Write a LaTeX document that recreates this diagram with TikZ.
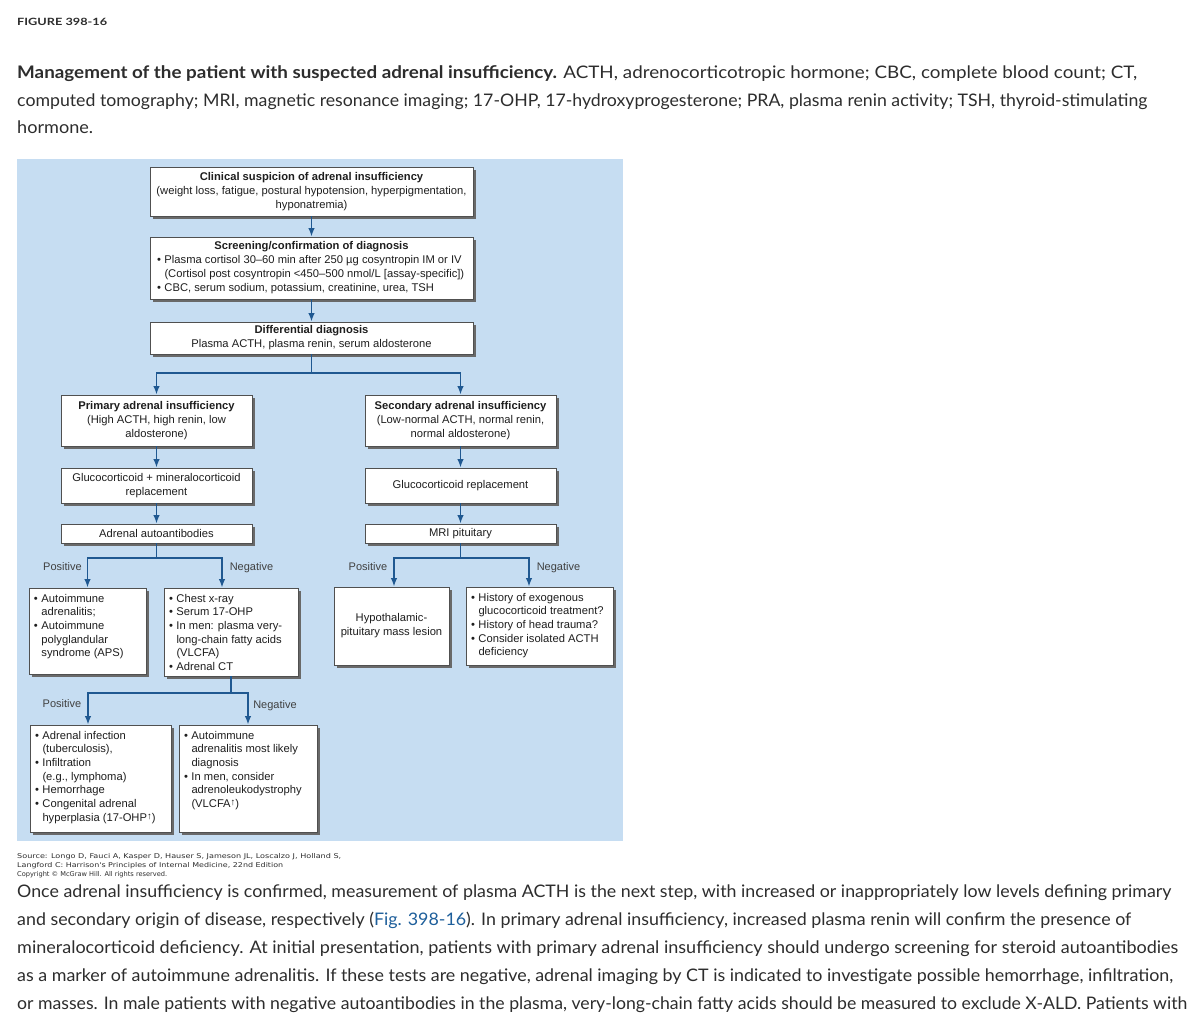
\documentclass[tikz,border=0pt]{standalone}
\usepackage{fontspec}
\usepackage{graphicx}
\usetikzlibrary{arrows.meta,shadows}
\newfontfamily\dfont{Liberation Sans}
\newfontfamily\pfont{Lato}
\newfontfamily\sfont{DejaVu Sans}
\definecolor{panel}{RGB}{198,221,242}
\definecolor{arrc}{RGB}{31,88,145}
\definecolor{boxline}{RGB}{80,80,80}
\definecolor{shadowc}{RGB}{105,105,105}
\definecolor{dtext}{RGB}{30,30,30}
\definecolor{ptext}{RGB}{45,45,45}
\definecolor{linkc}{RGB}{30,95,155}
\newcommand\dsz{\dfont\fontsize{11.2}{14}\selectfont}
\newcommand\bsz{\dfont\fontsize{11.2}{13.7}\selectfont}
\newcommand\bul{\makebox[7.5pt][l]{\textbullet}}
\newcommand\ind{\hspace*{7.5pt}}
\newcommand\upar{{\fontsize{9.5}{9.5}\selectfont\raisebox{1.8pt}{↑}}}
\newcommand\bx[3]{\begin{minipage}[c][#2pt][t]{#1pt}\bsz\raggedright\rule{0pt}{14pt}#3\end{minipage}}
\newcommand\fitl[2]{\resizebox{#1pt}{\height}{#2}}
\newcommand\bodysz{\pfont\fontsize{17.3}{20}\selectfont}
\tikzset{
  box/.style={draw=boxline, line width=0.9pt, fill=white, text=dtext,
    drop shadow={shadow xshift=3pt, shadow yshift=-3pt, fill=shadowc, opacity=1}},
  cbox/.style={box, align=center, inner sep=1pt, font=\dsz},
  bbox/.style={box, inner xsep=5pt, inner ysep=0pt},
  ln/.style={draw=arrc, line width=1.5pt, line cap=rect},
  arr/.style={draw=arrc, line width=1.5pt, -{Latex[length=8.5pt,width=6.5pt]}},
  lab/.style={font=\dfont\fontsize{11}{11}\selectfont, text=dtext!85, inner sep=0pt},
  ptxt/.style={anchor=base west, inner sep=0pt, text=ptext}
}
\begin{document}
\begin{tikzpicture}[x=1pt,y=-1pt]
\path[use as bounding box, fill=white] (0,0) rectangle (1203,1031);

% page header and caption
\node[ptxt] (fig) at (17,25) {\fitl{90}{\pfont\bfseries\fontsize{10}{10}\selectfont FIGURE 398-16}};
\node[ptxt] (cap1) at (17,78) {\fitl{1120}{\bodysz\textbf{Management of the patient with suspected adrenal insufficiency.} ACTH, adrenocorticotropic hormone; CBC, complete blood count; CT,}};
\node[ptxt] (cap2) at (17,106) {\fitl{1130}{\bodysz computed tomography; MRI, magnetic resonance imaging; 17-OHP, 17-hydroxyprogesterone; PRA, plasma renin activity; TSH, thyroid-stimulating}};
\node[ptxt] (cap3) at (17,133) {\fitl{76}{\bodysz hormone.}};

% figure panel
\fill[panel] (17,159) rectangle (623,841);

% boxes
\node[cbox, minimum width=323pt, minimum height=49pt] (b1) at (311.5,191.5)
  {\textbf{Clinical suspicion of adrenal insufficiency}\\(weight loss, fatigue, postural hypotension, hyperpigmentation,\\hyponatremia)};
\node[cbox, minimum width=323pt, minimum height=62pt] (b2) at (311.5,268)
  {\textbf{Screening/confirmation of diagnosis}\\
   \makebox[309pt][l]{\bul Plasma cortisol 30–60 min after 250 µg cosyntropin IM or IV}\\
   \makebox[309pt][l]{\ind(Cortisol post cosyntropin <450–500 nmol/L [assay-specific])}\\
   \makebox[309pt][l]{\bul CBC, serum sodium, potassium, creatinine, urea, TSH}};
\node[cbox, minimum width=323pt, minimum height=32pt] (b3) at (311.5,338)
  {\textbf{Differential diagnosis}\\Plasma ACTH, plasma renin, serum aldosterone};

\node[cbox, minimum width=191pt, minimum height=51pt] (b4) at (156.5,420.5)
  {\textbf{Primary adrenal insufficiency}\\(High ACTH, high renin, low\\aldosterone)};
\node[cbox, minimum width=191pt, minimum height=51pt] (b5) at (460.5,420.5)
  {\textbf{Secondary adrenal insufficiency}\\(Low-normal ACTH, normal renin,\\normal aldosterone)};
\node[cbox, minimum width=191pt, minimum height=35pt] (b6) at (156.5,485.5)
  {Glucocorticoid + mineralocorticoid\\replacement};
\node[cbox, minimum width=191pt, minimum height=35pt] (b7) at (460.5,485.5)
  {Glucocorticoid replacement};
\node[cbox, minimum width=191pt, minimum height=19pt] (b8) at (156.5,533.5)
  {Adrenal autoantibodies};
\node[cbox, minimum width=191pt, minimum height=19pt] (b9) at (460.5,533.5)
  {MRI pituitary};

\node[bbox] (b10) at (87.5,631) {\bx{107}{86}{\bul Autoimmune\\\ind adrenalitis;\\\bul Autoimmune\\\ind polyglandular\\\ind syndrome (APS)}};
\node[bbox] (b11) at (231,632) {\bx{124}{88}{\bul Chest x-ray\\\bul Serum 17-OHP\\\bul In men: plasma very-\\\ind long-chain fatty acids\\\ind (VLCFA)\\\bul Adrenal CT}};
\node[cbox, minimum width=115pt, minimum height=78pt] (b12) at (391.5,626)
  {Hypothalamic-\\pituitary mass lesion};
\node[bbox] (b13) at (539.5,626) {\bx{137}{78}{\bul History of exogenous\\\ind glucocorticoid treatment?\\\bul History of head trauma?\\\bul Consider isolated ACTH\\\ind deficiency}};
\node[bbox] (b14) at (100.5,778.5) {\bx{131}{107}{\bul Adrenal infection\\\ind (tuberculosis),\\\bul Infiltration\\\ind (e.g., lymphoma)\\\bul Hemorrhage\\\bul Congenital adrenal\\\ind hyperplasia (17-OHP\upar)}};
\node[bbox] (b15) at (248,778.5) {\bx{128}{107}{\bul Autoimmune\\\ind adrenalitis most likely\\\ind diagnosis\\\bul In men, consider\\\ind adrenoleukodystrophy\\\ind (VLCFA\upar)}};

% junction points
\coordinate (j1) at (311.5,373);
\coordinate (j2) at (156.5,558);
\coordinate (j3) at (460.5,558);
\coordinate (j4) at (231,693);

% connectors
\draw[arr] (b1.south) -- (b2.north);
\draw[arr] (b2.south) -- (b3.north);
\draw[ln] (b3.south) -- (j1);
\draw[arr] (j1) -| (b4.north);
\draw[arr] (j1) -| (b5.north);
\draw[arr] (b4.south) -- (b6.north);
\draw[arr] (b5.south) -- (b7.north);
\draw[arr] (b6.south) -- (b8.north);
\draw[arr] (b7.south) -- (b9.north);
\draw[ln] (b8.south) -- (j2);
\draw[arr] (j2) -| (b10.north);
\draw[arr] (j2) -| ([xshift=-9pt]b11.north);
\draw[ln] (b9.south) -- (j3);
\draw[arr] (j3) -| ([xshift=2.5pt]b12.north);
\draw[arr] (j3) -| ([xshift=-10.5pt]b13.north);
\draw[ln] (b11.south) -- (j4);
\draw[arr] (j4) -| ([xshift=-12.5pt]b14.north);
\draw[arr] (j4) -| (b15.north);

% branch labels
\node[lab] (pos1) at (62.5,567) {Positive};
\node[lab] (neg1) at (251.5,568) {Negative};
\node[lab] (pos2) at (368,567) {Positive};
\node[lab] (neg2) at (558.5,568) {Negative};
\node[lab] (pos3) at (62,704) {Positive};
\node[lab] (neg3) at (275,706) {Negative};

% source
\node[ptxt] (src1) at (17,858) {\fitl{324}{\sfont\fontsize{6.6}{7}\selectfont Source: Longo D, Fauci A, Kasper D, Hauser S, Jameson JL, Loscalzo J, Holland S,}};
\node[ptxt] (src2) at (17,867) {\fitl{266}{\sfont\fontsize{6.6}{7}\selectfont Langford C: Harrison's Principles of Internal Medicine, 22nd Edition}};
\node[ptxt] (src3) at (17,876) {\fitl{150}{\sfont\fontsize{6.6}{7}\selectfont Copyright © McGraw Hill. All rights reserved.}};

% body text
\node[ptxt] (t1) at (17,897) {\fitl{1154}{\bodysz Once adrenal insufficiency is confirmed, measurement of plasma ACTH is the next step, with increased or inappropriately low levels defining primary}};
\node[ptxt] (t2) at (17,925) {\fitl{1114}{\bodysz and secondary origin of disease, respectively (\textcolor{linkc}{Fig. 398-16}). In primary adrenal insufficiency, increased plasma renin will confirm the presence of}};
\node[ptxt] (t3) at (17,953) {\fitl{1161}{\bodysz mineralocorticoid deficiency. At initial presentation, patients with primary adrenal insufficiency should undergo screening for steroid autoantibodies}};
\node[ptxt] (t4) at (17,981) {\fitl{1156}{\bodysz as a marker of autoimmune adrenalitis. If these tests are negative, adrenal imaging by CT is indicated to investigate possible hemorrhage, infiltration,}};
\node[ptxt] (t5) at (17,1009) {\fitl{1170}{\bodysz or masses. In male patients with negative autoantibodies in the plasma, very-long-chain fatty acids should be measured to exclude X-ALD. Patients with}};
\end{tikzpicture}
\end{document}
